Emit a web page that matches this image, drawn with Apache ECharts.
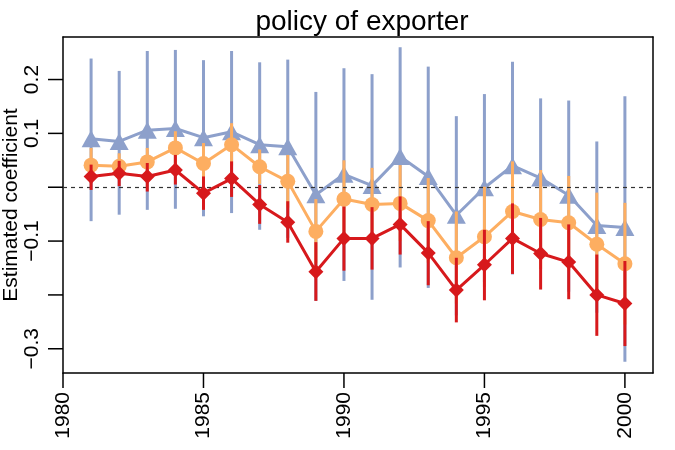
<!DOCTYPE html>
<html>
<head>
<meta charset="utf-8">
<script src="https://cdn.jsdelivr.net/npm/echarts@6/dist/echarts.min.js"></script>
<style>html,body{margin:0;padding:0;background:#fff;}#c{width:675px;height:450px;}</style>
</head>
<body>
<div id="c"></div>
<script>
const years = [1981,1982,1983,1984,1985,1986,1987,1988,1989,1990,1991,1992,1993,1994,1995,1996,1997,1998,1999,2000];

const blueMid = [0.090,0.085,0.106,0.109,0.092,0.103,0.079,0.075,-0.014,0.024,0.003,0.057,0.020,-0.052,-0.001,0.040,0.017,-0.015,-0.071,-0.075];
const blueHi  = [0.239,0.216,0.253,0.255,0.236,0.253,0.232,0.237,0.177,0.221,0.210,0.260,0.224,0.132,0.173,0.233,0.165,0.161,0.085,0.169];
const blueLo  = [-0.063,-0.051,-0.042,-0.040,-0.054,-0.048,-0.079,-0.094,-0.211,-0.174,-0.209,-0.149,-0.187,-0.238,-0.176,-0.162,-0.133,-0.194,-0.233,-0.324];

const orangeMid = [0.041,0.039,0.047,0.073,0.044,0.079,0.038,0.011,-0.082,-0.022,-0.032,-0.030,-0.062,-0.131,-0.092,-0.045,-0.060,-0.066,-0.106,-0.142];
const orangeHi  = [0.073,0.063,0.073,0.104,0.082,0.119,0.070,0.060,-0.022,0.050,0.036,0.041,0.017,-0.045,0.001,0.048,0.032,0.021,-0.010,-0.029];
const orangeLo  = [0.009,0.015,0.021,0.042,0.006,0.040,0.006,-0.038,-0.141,-0.095,-0.100,-0.100,-0.140,-0.216,-0.185,-0.137,-0.152,-0.155,-0.202,-0.255];

const redMid = [0.020,0.026,0.020,0.032,-0.011,0.016,-0.032,-0.065,-0.157,-0.095,-0.095,-0.069,-0.122,-0.191,-0.144,-0.095,-0.123,-0.139,-0.200,-0.216];
const redHi  = [0.042,0.049,0.045,0.060,0.020,0.048,0.004,-0.026,-0.102,-0.036,-0.037,-0.017,-0.063,-0.131,-0.079,-0.030,-0.057,-0.069,-0.125,-0.137];
const redLo  = [-0.005,0.002,-0.008,0.005,-0.042,-0.018,-0.068,-0.103,-0.211,-0.155,-0.153,-0.125,-0.182,-0.251,-0.210,-0.161,-0.190,-0.208,-0.276,-0.295];

const xTicks = [1980,1985,1990,1995,2000];
const yTicks = [-0.3,-0.2,-0.1,0,0.1,0.2];
const yTickLabels = [-0.3,-0.1,0.1,0.2];

const titleText = 'policy of exporter';
const yName = 'Estimated coefficient';

const X_MIN = 1980, X_MAX = 2001, Y_MIN = -0.345, Y_MAX = 0.279;
const TICK_LEN = 15;

const FONT = 'Liberation Sans, Arial, Helvetica, sans-serif';
const BLUE = '#8DA0CB', ORANGE = '#FDAE61', RED = '#D7191C';
const AXIS_LINE = { show: true, onZero: false, lineStyle: { color: '#000', width: 1.5 } };

function barSeries(lo, hi, color, z) {
  return {
    type: 'custom',
    z: z,
    data: years.map((y, i) => [y, lo[i], hi[i]]),
    encode: { x: 0, y: [1, 2] },
    renderItem: function (params, api) {
      const x = api.value(0);
      const a = api.coord([x, api.value(1)]);
      const b = api.coord([x, api.value(2)]);
      return {
        type: 'line',
        shape: { x1: a[0], y1: a[1], x2: b[0], y2: b[1] },
        style: { stroke: color, lineWidth: 3 }
      };
    },
    silent: true
  };
}

function lineSeries(mid, color, symbol, size, z, extra) {
  return Object.assign({
    type: 'line',
    z: z,
    data: years.map((y, i) => [y, mid[i]]),
    symbol: symbol,
    symbolSize: size,
    showAllSymbol: true,
    lineStyle: { color: color, width: 3 },
    itemStyle: { color: color, borderWidth: 0 },
    animation: false,
    silent: true
  }, extra || {});
}

const chart = echarts.init(document.getElementById('c'), null, { renderer: 'canvas' });
chart.setOption({
  animation: false,
  backgroundColor: '#fff',
  textStyle: { fontFamily: FONT },
  title: {
    text: titleText, left: 357, top: 3, textAlign: 'center',
    textStyle: { color: '#000', fontSize: 28, fontWeight: 'normal', fontFamily: FONT }
  },
  grid: { left: 63, right: 22, top: 37, bottom: 77, outerBoundsMode: 'none', containLabel: false, show: false },
  xAxis: [{
    type: 'value', min: X_MIN, max: X_MAX, interval: 5, position: 'bottom',
    axisLine: AXIS_LINE,
    splitLine: { show: false },
    axisTick: { show: false },
    axisLabel: { customValues: xTicks, rotate: 90, margin: 19, color: '#000', fontSize: 21, fontFamily: FONT, formatter: v => String(v) }
  }, {
    type: 'value', min: X_MIN, max: X_MAX, position: 'top',
    axisLine: AXIS_LINE, splitLine: { show: false }, axisTick: { show: false }, axisLabel: { show: false }
  }, {
    // tick marks drawn as small black label boxes at the tick values
    type: 'value', min: X_MIN, max: X_MAX, position: 'bottom',
    axisLine: { show: false }, splitLine: { show: false }, axisTick: { show: false },
    axisLabel: {
      customValues: xTicks, margin: 0, hideOverlap: false, showMinLabel: true, showMaxLabel: true,
      formatter: () => '{t| }',
      rich: { t: { width: 1.5, height: TICK_LEN, lineHeight: TICK_LEN, fontSize: 8, padding: 0, backgroundColor: '#000' } }
    }
  }],
  yAxis: [{
    type: 'value', min: Y_MIN, max: Y_MAX, position: 'left',
    name: yName, nameLocation: 'middle', nameGap: 41, nameRotate: 90, nameMoveOverlap: false,
    nameTextStyle: { color: '#000', fontSize: 21, fontFamily: FONT },
    axisLine: AXIS_LINE,
    splitLine: { show: false },
    axisTick: { show: false },
    axisLabel: { customValues: yTickLabels, rotate: 90, margin: 20, color: '#000', fontSize: 21, fontFamily: FONT,
      formatter: v => (v < 0 ? '\u2212' : '') + Math.abs(v).toFixed(1) }
  }, {
    type: 'value', min: Y_MIN, max: Y_MAX, position: 'right',
    axisLine: AXIS_LINE, splitLine: { show: false }, axisTick: { show: false }, axisLabel: { show: false }
  }, {
    type: 'value', min: Y_MIN, max: Y_MAX, position: 'left',
    axisLine: { show: false }, splitLine: { show: false }, axisTick: { show: false },
    axisLabel: {
      customValues: yTicks, margin: 0, hideOverlap: false, showMinLabel: true, showMaxLabel: true,
      formatter: () => '{t| }',
      rich: { t: { width: TICK_LEN, height: 1.5, lineHeight: 1.5, fontSize: 1, padding: 0, backgroundColor: '#000' } }
    }
  }],
  series: [
    barSeries(blueLo, blueHi, BLUE, 2),
    lineSeries(blueMid, BLUE, 'triangle', [19, 17], 3, {
      markLine: {
        silent: true, symbol: 'none', label: { show: false },
        lineStyle: { color: '#333', type: [4, 4], width: 1.2 },
        data: [{ yAxis: 0 }]
      }
    }),
    barSeries(orangeLo, orangeHi, ORANGE, 4),
    lineSeries(orangeMid, ORANGE, 'circle', 15, 5),
    barSeries(redLo, redHi, RED, 6),
    lineSeries(redMid, RED, 'diamond', 15, 7)
  ]
});
</script>
</body>
</html>
